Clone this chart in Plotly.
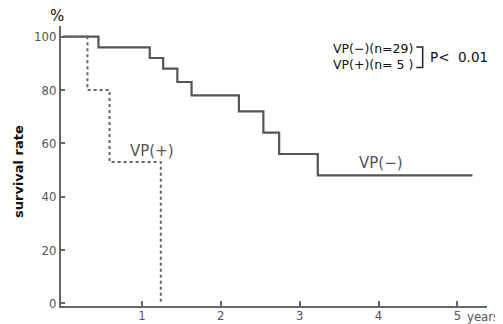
import plotly.graph_objects as go

# Kaplan-Meier style survival data (years, %)
vp_minus_t = [0, 0.45, 1.10, 1.27, 1.45, 1.63, 2.23, 2.54, 2.74, 3.23, 5.19]
vp_minus_s = [100, 96, 92, 88, 83, 78, 72, 64, 56, 48, 48]
vp_plus_t = [0, 0.31, 0.59, 1.24]
vp_plus_s = [100, 80, 53, 0]

x_ticks = [1, 2, 3, 4, 5]
y_ticks = [0, 20, 40, 60, 80, 100]

FONT = "DejaVu Sans Condensed, Liberation Sans Narrow, Arial Narrow, sans-serif"

fig = go.Figure()
fig.add_trace(go.Scatter(x=vp_minus_t, y=vp_minus_s, mode="lines",
                         line=dict(shape="hv", color="#555555", width=2.2),
                         showlegend=False, hoverinfo="skip"))
fig.add_trace(go.Scatter(x=vp_plus_t, y=vp_plus_s, mode="lines",
                         line=dict(shape="hv", color="#666666", width=2, dash="dot"),
                         showlegend=False, hoverinfo="skip"))

# page body has an 8px default margin, so the figure is offset by (8, 8)
fig.update_layout(
    width=495, height=316,
    margin=dict(l=53, r=16, t=18, b=18, autoexpand=False),
    paper_bgcolor="white", plot_bgcolor="white",
    showlegend=False,
    font=dict(family=FONT, color="#555555", size=13),
    xaxis=dict(range=[-0.025, 5.375], tickvals=x_ticks, ticktext=[str(v) for v in x_ticks],
               automargin=False, ticklabelstandoff=-4,
               showgrid=False, zeroline=False, showline=True, linecolor="#666666", linewidth=2,
               ticks="inside", ticklen=5, tickcolor="#666666", tickwidth=1.5,
               tickfont=dict(size=13, color="#555555")),
    yaxis=dict(range=[-1, 104], tickvals=y_ticks, automargin=False,
               showgrid=False, zeroline=False, showline=True, linecolor="#666666", linewidth=2,
               ticks="inside", ticklen=4, tickcolor="#666666", tickwidth=1.5,
               tickfont=dict(size=13, color="#555555")),
)

ann = [
    dict(text="%", x=-0.009, y=1.035, xref="paper", yref="paper", showarrow=False,
         font=dict(size=15, color="#111111", family="DejaVu Sans"), xanchor="center", yanchor="middle"),
    dict(text="<b>survival rate</b>", x=-0.10, y=0.48, xref="paper", yref="paper", showarrow=False,
         textangle=-90, font=dict(size=13, color="#111111", family="DejaVu Sans"),
         xanchor="center", yanchor="middle"),
    dict(text="years", x=5.09, y=-0.036, xref="x", yref="paper", showarrow=False,
         xanchor="left", yanchor="middle", font=dict(size=13, color="#555555")),
    dict(text="VP(+)", x=1.13, y=57, xref="x", yref="y", showarrow=False,
         font=dict(size=15, color="#555555", family="DejaVu Sans"), xanchor="center", yanchor="middle"),
    dict(text="VP(−)", x=4.03, y=52.5, xref="x", yref="y", showarrow=False,
         font=dict(size=15, color="#555555", family="DejaVu Sans"), xanchor="center", yanchor="middle"),
    dict(text="VP(−)(n=29)", x=0.832, y=0.918, xref="paper", yref="paper", showarrow=False,
         xanchor="right", yanchor="middle", font=dict(size=12.5, color="#111111", family="DejaVu Sans")),
    dict(text="VP(+)(n= 5 )", x=0.832, y=0.861, xref="paper", yref="paper", showarrow=False,
         xanchor="right", yanchor="middle", font=dict(size=12.5, color="#111111", family="DejaVu Sans")),
    dict(text="P&lt;  0.01", x=0.862, y=0.889, xref="paper", yref="paper", showarrow=False,
         xanchor="left", yanchor="middle", font=dict(size=13.5, color="#111111", family="DejaVu Sans")),
]
fig.update_layout(annotations=ann)

fig.add_shape(type="path", xref="paper", yref="paper",
              path="M 0.834 0.925 L 0.849 0.925 L 0.849 0.852 L 0.834 0.852",
              line=dict(color="#222222", width=1.5))

fig.write_html("out.html")
